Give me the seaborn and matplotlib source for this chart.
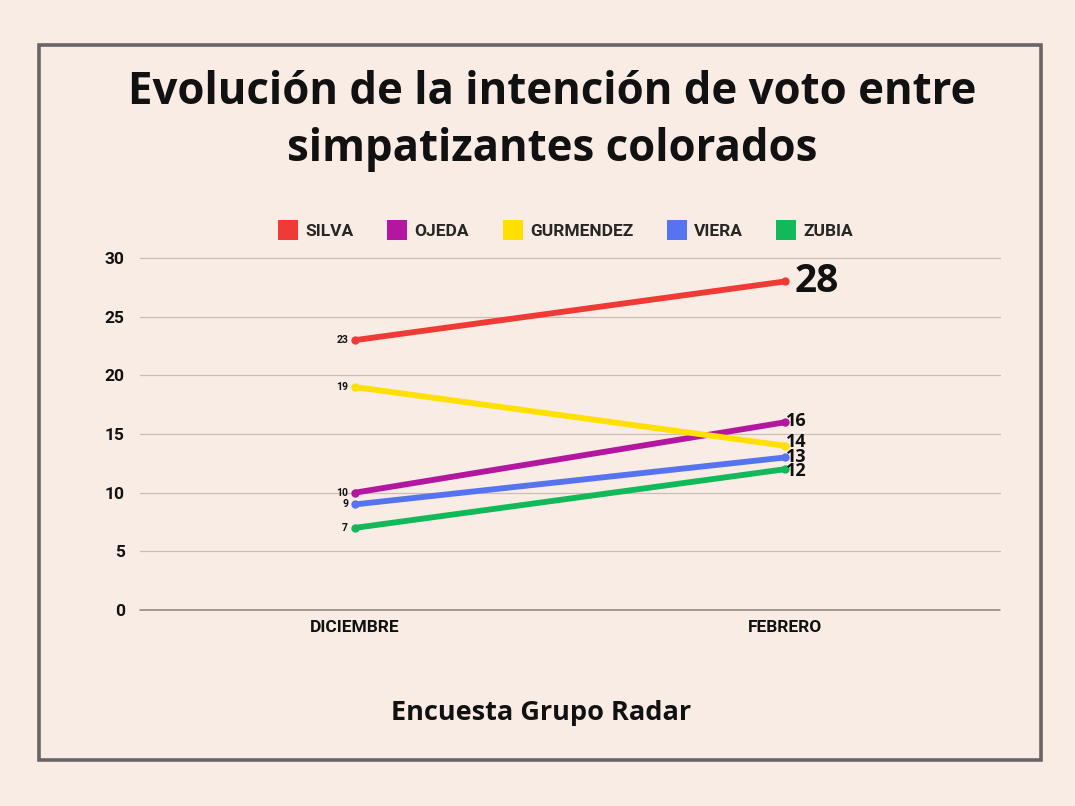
import matplotlib
matplotlib.use("Agg")
import matplotlib.pyplot as plt
from matplotlib.patches import Rectangle
from matplotlib.lines import Line2D
import seaborn as sns
import pandas as pd

months = ["DICIEMBRE", "FEBRERO"]
candidates = ["SILVA", "OJEDA", "GURMENDEZ", "VIERA", "ZUBIA"]
silva = [23, 28]
ojeda = [10, 16]
gurmendez = [19, 14]
viera = [9, 13]
zubia = [7, 12]
colors = ["#f03a36", "#b3169f", "#ffe000", "#5673f0", "#12b95a"]
yticks = [0, 5, 10, 15, 20, 25, 30]

series = [silva, ojeda, gurmendez, viera, zubia]
rows = []
for name, vals in zip(candidates, series):
    for i, (m, v) in enumerate(zip(months, vals)):
        rows.append({"mes": m, "x": i, "valor": v, "candidato": name})
df = pd.DataFrame(rows)

sns.set_theme(style="white")
plt.rcParams["font.family"] = ["Roboto", "DejaVu Sans"]

bg = "#f9ece4"
fig = plt.figure(figsize=(10.75, 8.06), dpi=100, facecolor=bg)
ax = fig.add_axes([140/1075, 1-610/806, 860/1075, 352/806])
ax.set_facecolor(bg)

pal = dict(zip(candidates, colors))
sns.lineplot(data=df, x="x", y="valor", hue="candidato", palette=pal,
             linewidth=4.2, marker="o", markersize=6, markeredgewidth=0,
             legend=False, ax=ax, zorder=3)

ax.set_xlim(-0.5, 1.5)
ax.set_ylim(0, 30)
ax.set_xticks([0, 1])
ax.set_xticklabels(months, fontsize=12.5, fontweight="bold", color="#111111")
ax.set_yticks(yticks)
ax.set_yticklabels([str(t) for t in yticks], fontsize=12.5, fontweight="bold", color="#111111")
ax.tick_params(axis="both", length=0)
ax.tick_params(axis="x", pad=7)
ax.tick_params(axis="y", pad=11)
for s in ax.spines.values():
    s.set_visible(False)
for t in yticks:
    ax.axhline(t, color="#8a7f7b" if t == 0 else "#cbbdb6", lw=1.1 if t == 0 else 0.9,
               zorder=1, clip_on=False)
ax.set_xlabel("")
ax.set_ylabel("")

# left labels (December)
for name, vals in zip(candidates, series):
    ax.annotate(str(vals[0]), (0, vals[0]), xytext=(-5, 0), textcoords="offset points",
                ha="right", va="center", fontsize=7.5, fontweight="bold", color="#111111")

# right labels (February)
ax.annotate(str(silva[1]), (1, silva[1]), xytext=(7, 0), textcoords="offset points",
            ha="left", va="center", fontsize=28, fontweight="bold", color="#111111",
            family=["Open Sans", "DejaVu Sans"])
offsets = [1, 3, 0, -1.5]
for (name, vals), dy in zip(zip(candidates[1:], series[1:]), offsets):
    ax.annotate(str(vals[1]), (1, vals[1]), xytext=(1, dy), textcoords="offset points",
                ha="left", va="center", fontsize=13, fontweight="bold", color="#111111",
                family=["Open Sans", "DejaVu Sans"])

# legend
handles = [Line2D([0], [0], marker="s", color="none", markerfacecolor=c, markeredgewidth=0,
                  markersize=15) for c in colors]
fig.legend(handles, candidates, loc="center", bbox_to_anchor=(0.527, 1-231/806), ncol=5,
           frameon=False, handletextpad=0.5, columnspacing=2.0, handlelength=1.0,
           prop={"weight": "bold", "size": 12.5})

# title
fig.text(0.514, 1-92/806, "Evolución de la intención de voto entre", ha="center", va="center",
         fontsize=31.5, fontweight="bold", family=["Open Sans", "DejaVu Sans"], color="#111111")
fig.text(0.514, 1-150/806, "simpatizantes colorados", ha="center", va="center",
         fontsize=31.5, fontweight="bold", family=["Open Sans", "DejaVu Sans"], color="#111111")

# footer
fig.text(0.503, 1-713/806, "Encuesta Grupo Radar", ha="center", va="center",
         fontsize=19.5, fontweight="bold", family=["Open Sans", "DejaVu Sans"], color="#111111")

# frame
fig.patches.append(Rectangle((39/1075, 1-760/806), (1041-39)/1075, (760-45)/806,
                             transform=fig.transFigure, fill=False, edgecolor="#6b6464",
                             linewidth=2.6, zorder=0))

fig.savefig("out.png", dpi=100, facecolor=bg)
